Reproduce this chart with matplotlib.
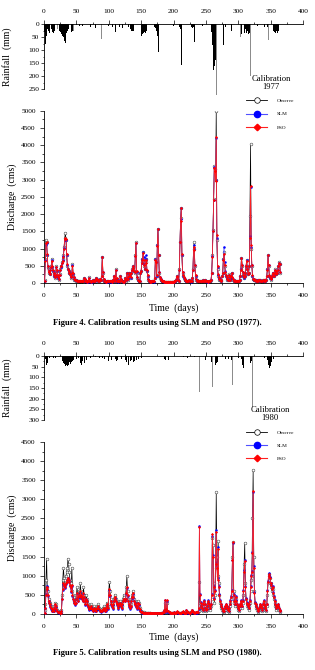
import matplotlib
matplotlib.use('Agg')
import matplotlib.pyplot as plt
from matplotlib.lines import Line2D
from matplotlib.ticker import MultipleLocator
import numpy as np

plt.rcParams['font.family'] = ['Liberation Serif', 'DejaVu Serif']

# ---------------- Rainfall 1977 (day, mm) ----------------
rain77_black_days = [1,2,3,4,5,6,7,8,9,12,13,14,15,16,17,20,24,26,27,28,29,30,31,32,33,34,35,36,38,40,42,44,
                     50,55,60,65,72,80,100,106,111,117,121,125,130,133,135,136,137,138,142,
                     151,152,153,154,155,156,157,158,171,172,173,174,175,176,177,200,209,210,211,212,
                     228,229,230,231,232,245,258,259,260,261,262,263,264,265,266,267,275,277,280,289,
                     305,309,310,311,312,313,314,315,316,317,318,319,330,340,345,
                     354,355,356,357,358,359,360,361,362,363]
rain77_black_vals = [30,75,70,45,20,15,25,10,35,20,30,15,35,25,10,15,25,30,40,35,45,50,55,65,73,50,35,25,20,15,30,25,
                     5,8,6,10,12,15,8,10,30,12,15,20,10,18,25,20,28,25,90,
                     45,40,50,35,30,25,35,28,10,15,20,25,45,60,109,8,10,15,20,157,
                     12,15,18,10,69,8,15,30,80,120,177,160,150,140,60,20,15,80,10,28,
                     40,30,35,20,40,35,25,30,40,35,45,60,8,10,12,
                     20,25,30,35,20,25,30,35,25,20]
rain77_grey_days = [21,45,89,266,303,319,347]
rain77_grey_vals = [20,28,58,273,50,200,60]

# ---------------- Rainfall 1980 (day, mm) ----------------
rain80_black_days = [2,3,4,5,6,8,15,18,20,29,30,31,32,33,34,35,36,37,38,39,40,41,42,44,46,48,50,53,56,58,60,63,66,68,
                     72,80,86,90,94,100,102,104,110,112,114,116,120,126,128,130,133,135,138,140,143,146,150,
                     186,188,192,216,222,232,250,259,260,261,265,266,268,275,280,285,290,300,305,307,308,309,
                     315,318,319,320,335,340,345,347,348,349,350,351,352,355]
rain80_black_vals = [15,42,40,35,20,10,8,10,12,25,35,40,38,45,42,40,45,35,40,30,45,38,30,25,20,30,15,10,35,40,25,35,20,15,
                     10,5,8,10,12,25,35,20,15,25,20,18,15,20,30,42,25,20,30,25,20,15,8,
                     15,20,18,5,8,6,20,30,40,35,40,35,30,10,15,12,20,10,15,40,55,80,
                     20,30,35,25,8,10,20,40,56,50,45,30,25,15]
rain80_grey_days = [240,260,264,291,322]
rain80_grey_vals = [169,145,136,136,238]

# ---------------- Discharge 1977 (cms), daily from day 1 ----------------
obs77 = [80,700,1250,1200,800,450,300,350,250,400,
         480,700,450,350,300,200,150,250,500,350,
         200,150,100,250,400,500,450,600,700,800,
         1050,1300,1460,1250,800,500,400,350,300,250,
         200,150,300,550,250,150,100,100,80,70,
         60,50,60,70,50,40,40,50,60,50,
         60,150,100,50,40,40,30,40,160,60,
         50,40,30,40,80,60,50,40,80,120,
         150,100,80,60,50,80,120,100,200,760,
         300,100,60,40,30,30,40,50,60,40,
         40,50,60,40,30,60,100,200,100,60,
         400,120,60,40,40,50,60,200,100,60,
         40,30,30,60,150,100,70,300,150,100,
         200,300,250,150,300,400,450,500,350,300,
         800,1180,300,150,80,60,50,40,300,350,
         600,700,900,650,500,400,600,700,350,200,
         100,60,40,30,30,40,50,60,50,40,
         150,700,600,200,1100,1580,800,300,150,100,
         80,60,50,40,40,30,30,30,30,30,
         25,30,30,25,30,35,30,25,30,35,
         40,50,60,100,200,150,80,60,400,1200,
         1900,2190,800,300,200,150,100,80,60,60,
         50,50,60,80,50,40,40,60,150,400,
         1000,1190,500,200,100,80,60,50,40,50,
         60,50,40,60,80,50,40,60,100,50,
         40,40,30,40,60,40,50,100,300,800,
         1550,2450,3400,3300,3000,5000,1250,400,200,150,
         100,80,60,80,200,300,700,900,500,300,
         200,150,100,80,100,250,150,80,200,300,
         150,100,80,60,50,40,50,60,50,40,
         60,100,200,400,735,500,300,200,150,200,
         300,500,670,400,250,300,500,1940,4020,1000,
         500,200,120,100,80,100,80,60,50,60,
         80,100,80,60,50,40,60,80,100,60,
         50,80,100,200,400,810,500,200,150,100,
         150,200,300,250,200,300,400,350,250,300,
         400,500,600,550,300]
slm77 = [70,680,1100,1150,820,480,310,340,250,390,
         460,680,460,360,300,210,160,240,470,360,
         210,150,110,240,390,490,460,590,680,780,
         1020,1250,1250,1240,820,520,410,350,300,250,
         200,160,290,520,260,160,110,100,85,75,
         65,55,60,70,55,45,45,50,60,50,
         60,145,105,55,45,40,35,40,155,65,
         50,40,35,40,80,60,50,45,80,115,
         145,105,80,60,50,80,115,100,195,750,
         310,110,65,45,35,35,40,50,60,45,
         40,50,60,40,35,60,100,195,105,60,
         390,130,65,45,40,50,60,195,105,60,
         45,35,35,60,145,105,75,295,155,105,
         195,295,255,155,295,390,440,490,355,305,
         790,1160,330,160,85,65,50,45,290,345,
         590,690,890,760,560,410,800,690,360,210,
         110,65,45,35,35,40,50,60,50,40,
         145,690,610,210,1090,1560,810,310,160,105,
         85,65,50,45,40,35,35,35,30,30,
         30,30,30,30,30,35,30,30,30,35,
         40,50,60,100,195,155,85,65,390,1190,
         1850,2180,820,310,210,155,105,85,65,60,
         55,50,60,80,55,45,40,60,145,390,
         980,1100,510,210,110,85,65,55,45,50,
         60,50,45,60,80,50,45,60,100,55,
         45,40,35,40,60,45,50,100,290,780,
         1520,2420,3380,3280,2980,4200,1300,450,220,155,
         105,85,65,80,195,295,690,1050,600,350,
         210,155,105,85,100,245,155,85,195,295,
         155,105,80,60,50,45,50,60,50,45,
         60,100,195,395,730,510,310,210,155,195,
         295,490,660,410,260,300,490,1350,2800,1050,
         510,210,125,105,85,100,80,60,50,60,
         80,100,80,60,50,45,60,80,100,60,
         50,80,100,195,395,800,510,210,155,105,
         150,195,295,255,205,295,390,355,255,295,
         390,490,590,555,310]
pso77 = [60,650,1150,1180,850,500,320,330,260,380,
         450,650,480,380,300,220,170,230,450,380,
         220,160,120,230,380,480,480,580,650,750,
         1000,1280,1300,1280,850,550,420,360,300,260,
         210,170,280,500,280,170,120,100,90,80,
         70,60,60,70,60,50,50,55,60,55,
         60,140,110,60,50,45,40,45,150,70,
         55,45,40,45,80,65,55,50,80,110,
         140,110,85,65,55,80,110,100,190,740,
         320,120,70,50,40,40,45,55,60,50,
         45,55,60,45,40,60,100,190,110,65,
         380,140,70,50,45,55,60,190,110,65,
         50,40,40,60,140,110,80,290,160,110,
         190,290,260,160,290,380,430,480,360,310,
         780,1170,350,170,90,70,55,50,280,340,
         580,680,880,680,520,420,580,680,380,220,
         120,70,50,40,40,45,55,60,55,45,
         140,680,620,220,1080,1570,820,320,170,110,
         90,70,55,50,45,40,40,40,35,35,
         35,35,35,30,35,40,35,30,35,40,
         45,55,60,100,190,160,90,70,380,1180,
         1800,2190,850,320,220,160,110,90,70,65,
         60,55,60,80,60,50,45,60,140,380,
         950,1050,520,220,120,90,70,60,50,55,
         60,55,50,60,80,55,50,60,100,60,
         50,45,40,45,60,50,55,100,280,750,
         1500,2400,3350,3250,2950,4250,1400,500,250,160,
         110,90,70,80,190,290,680,850,520,320,
         220,160,110,90,100,240,160,90,190,290,
         160,110,85,65,55,50,55,60,55,50,
         60,100,190,390,720,520,320,220,160,190,
         290,480,650,420,270,300,480,1300,2810,1100,
         520,220,130,110,90,100,85,65,55,60,
         80,100,85,65,55,50,60,80,100,65,
         55,80,100,190,390,810,520,220,160,110,
         150,190,290,260,210,290,380,360,260,290,
         380,480,580,560,320]

# ---------------- Discharge 1980 (cms), daily from day 1 ----------------
obs80 = [100,250,900,1450,700,600,400,350,300,250,
         200,150,100,150,100,200,300,250,150,100,
         80,60,50,40,30,40,100,500,900,1210,
         950,800,900,1000,1100,1200,1450,1300,1100,900,
         800,700,1210,600,500,400,350,300,400,500,
         700,500,400,600,500,800,600,500,450,400,
         700,500,400,300,500,400,300,250,200,150,
         200,250,200,150,100,150,200,150,120,100,
         150,200,250,200,150,120,100,80,100,120,
         150,200,150,100,120,200,300,250,200,600,
         850,600,400,300,250,200,300,400,500,450,
         400,350,300,250,200,300,350,300,250,200,
         300,400,500,450,400,500,700,990,600,400,
         300,250,200,250,400,500,600,500,400,350,
         300,250,200,250,350,300,200,150,100,80,
         60,50,40,40,30,30,25,20,20,20,
         20,15,15,15,10,10,10,10,10,10,
         10,10,10,10,10,10,10,10,10,10,
         15,20,25,30,40,60,300,80,50,300,
         60,40,30,25,20,15,15,15,20,30,
         20,15,15,15,40,35,20,15,15,15,
         15,20,30,50,25,15,15,15,20,80,
         40,30,20,15,15,15,40,80,40,30,
         20,15,15,20,30,40,20,40,80,830,
         300,200,150,100,80,200,300,200,100,80,
         100,150,250,300,200,150,100,200,400,2000,
         1800,800,300,500,1200,3180,1500,1000,1900,800,
         500,300,200,150,100,80,60,50,100,150,
         200,150,100,80,60,100,200,300,400,500,
         1500,1880,600,300,200,400,300,200,150,100,
         80,150,200,300,200,150,300,500,1300,1860,
         800,400,300,200,150,100,200,300,600,900,
         1000,2500,3760,1500,600,300,200,150,100,80,
         60,100,150,200,150,100,80,200,300,200,
         150,100,80,200,500,800,1000,1040,950,800,
         700,600,650,500,400,300,200,150,100,150,
         200,150,100,80,60]
slm80 = [30,170,520,740,640,480,340,290,240,190,
         140,110,70,90,70,140,240,190,110,70,
         50,40,30,25,20,25,70,380,620,780,
         730,680,740,790,830,880,930,880,830,730,
         680,580,730,480,380,330,280,230,280,380,
         530,430,330,480,430,580,480,430,380,330,
         530,430,330,230,380,330,230,180,140,110,
         140,190,140,110,70,110,140,110,90,70,
         110,140,190,140,110,90,70,60,70,90,
         110,140,110,70,90,140,240,190,140,480,
         630,480,330,230,190,140,230,330,430,380,
         330,280,230,190,140,230,280,230,190,140,
         230,330,380,360,330,380,530,680,480,330,
         230,190,140,190,330,430,530,430,330,280,
         230,190,140,190,280,230,140,110,70,50,
         45,35,30,25,25,20,20,20,15,15,
         15,15,15,15,15,15,15,15,15,15,
         15,15,15,15,15,15,15,15,15,15,
         20,25,30,40,55,95,360,110,65,350,
         85,65,45,35,30,30,30,30,35,40,
         30,25,25,25,65,55,35,25,25,25,
         25,30,40,65,35,25,25,25,30,100,
         65,45,35,25,25,25,55,100,65,45,
         35,25,25,35,45,55,35,55,140,2300,
         520,320,210,160,110,260,370,260,160,110,
         130,210,310,360,260,210,160,260,520,2050,
         1550,720,420,620,1350,2200,1250,950,1750,720,
         520,360,260,210,160,110,85,75,160,210,
         260,210,160,110,85,160,260,360,460,620,
         1420,1870,520,360,260,460,360,260,210,160,
         110,210,260,360,260,210,360,620,1150,1420,
         720,420,310,260,210,160,260,360,720,1020,
         1120,1620,3200,1250,570,310,260,210,160,110,
         85,160,210,260,210,160,110,260,360,260,
         210,160,110,260,620,870,1020,1060,970,820,
         770,670,720,570,470,360,260,210,160,210,
         260,210,160,110,85]
pso80 = [20,150,500,715,650,500,350,300,250,200,
         150,120,80,100,80,150,250,200,120,80,
         60,50,40,30,20,30,80,400,650,800,
         750,700,750,800,850,900,950,900,850,750,
         700,600,750,500,400,350,300,250,300,400,
         550,450,350,500,450,600,500,450,400,350,
         550,450,350,250,400,350,250,200,150,120,
         150,200,150,120,80,120,150,120,100,80,
         120,150,200,150,120,100,80,70,80,100,
         120,150,120,80,100,150,250,200,150,500,
         650,500,350,250,200,150,250,350,450,400,
         350,300,250,200,150,250,300,250,200,150,
         250,350,400,380,350,400,550,700,500,350,
         250,200,150,200,350,450,550,450,350,300,
         250,200,150,200,300,250,150,120,80,60,
         50,40,35,30,30,25,25,20,20,20,
         20,15,15,15,15,15,15,15,15,15,
         15,15,15,15,15,15,15,15,15,15,
         20,25,30,40,60,100,370,120,70,360,
         90,70,50,40,35,30,30,30,35,45,
         35,30,25,25,70,60,40,30,25,25,
         25,35,45,70,40,30,25,25,35,110,
         70,50,40,30,30,30,60,110,70,50,
         40,30,30,40,50,60,40,60,150,2280,
         500,300,200,150,100,250,350,250,150,100,
         120,200,300,350,250,200,150,250,500,2090,
         1500,700,400,600,1300,2150,1200,900,1700,700,
         500,350,250,200,150,100,80,70,150,200,
         250,200,150,100,80,150,250,350,450,600,
         1400,1880,500,350,250,450,350,250,200,150,
         100,200,250,350,250,200,350,600,1100,1390,
         700,400,300,250,200,150,250,350,700,1000,
         1100,1600,3220,1200,550,300,250,200,150,100,
         80,150,200,250,200,150,100,250,350,250,
         200,150,100,250,600,850,1000,1040,950,800,
         750,650,700,550,450,350,250,200,150,200,
         250,200,150,100,80]

xticks = [0, 50, 100, 150, 200, 250, 300, 350, 400]

fig = plt.figure(figsize=(3.15, 6.7), dpi=100)
W, H = 315.0, 670.0

def rect(l, t, r, b):
    return [l / W, 1 - b / H, (r - l) / W, (b - t) / H]

def style_common(ax):
    ax.tick_params(axis='both', which='major', direction='out', length=3, width=0.5, labelsize=5.3, colors='black')
    ax.tick_params(axis='both', which='minor', direction='out', length=1.5, width=0.5)
    for s in ax.spines.values():
        s.set_linewidth(0.6)

def rain_axes(r, bd, bv, gd, gv, ymax, ytmax):
    ax = fig.add_axes(r)
    ax.bar(bd, bv, width=1.2, color='black', linewidth=0, clip_on=False)
    ax.bar(gd, gv, width=1.2, color='#8c8c8c', linewidth=0, clip_on=False)
    ax.set_xlim(0, 400)
    ax.set_ylim(ymax, 0)
    ax.set_xticks(xticks)
    ax.set_yticks(np.arange(0, ytmax + 1, 50))
    ax.xaxis.set_minor_locator(MultipleLocator(25))
    ax.yaxis.set_minor_locator(MultipleLocator(25))
    ax.xaxis.tick_top()
    ax.spines['bottom'].set_visible(False)
    ax.spines['right'].set_visible(False)
    style_common(ax)
    ax.tick_params(axis='x', which='major', pad=4.5)
    ax.tick_params(axis='y', which='both', length=2, pad=1.5)
    ax.tick_params(axis='y', which='minor', length=1)
    ax.set_ylabel('Rainfall  (mm)', fontsize=7)
    ax.yaxis.set_label_coords(-0.125, 0.5)
    return ax

def q_axes(r, obs, slm, pso, ymax):
    ax = fig.add_axes(r)
    d1 = np.arange(1, len(obs) + 1)
    d2 = np.arange(1, len(slm) + 1)
    d3 = np.arange(1, len(pso) + 1)
    ax.plot(d1, obs, color='black', lw=0.5, marker='o', ms=2.0, mfc='white', mec='#333333', mew=0.35, zorder=2)
    ax.plot(d2, slm, color='#4040ff', lw=0.5, marker='o', ms=1.8, mfc='blue', mec='blue', mew=0, zorder=3)
    ax.plot(d3, pso, color='#ff2020', lw=0.6, marker='D', ms=1.6, mfc='red', mec='red', mew=0, zorder=4)
    ax.set_xlim(0, 400)
    ax.set_ylim(0, ymax)
    ax.set_xticks(xticks)
    ax.set_yticks(np.arange(0, ymax + 1, 500))
    ax.xaxis.set_minor_locator(MultipleLocator(25))
    ax.yaxis.set_minor_locator(MultipleLocator(250))
    ax.spines['top'].set_visible(False)
    ax.spines['right'].set_visible(False)
    style_common(ax)
    ax.tick_params(axis='x', which='major', pad=4.5)
    ax.tick_params(axis='y', which='major', pad=3)
    ax.set_ylabel('Discharge  (cms)', fontsize=7)
    ax.yaxis.set_label_coords(-0.105, 0.5)
    handles = [
        Line2D([], [], color='black', lw=0.6, marker='o', ms=4, mfc='white', mec='black', mew=0.5),
        Line2D([], [], color='#5050ff', lw=0.8, marker='o', ms=4.5, mfc='blue', mec='blue'),
        Line2D([], [], color='#ff2020', lw=0.8, marker='D', ms=3.3, mfc='red', mec='red'),
    ]
    ax.legend(handles, ['Observe', 'SLM', 'PSO'], loc='upper left', bbox_to_anchor=(0.78, 1.07),
              frameon=False, fontsize=3.8, handlelength=4.0, handletextpad=1.8, labelspacing=1.6,
              borderpad=0, borderaxespad=0)
    return ax

# Figure 4 (1977)
rain_axes(rect(44, 24, 303, 89), rain77_black_days, rain77_black_vals,
          rain77_grey_days, rain77_grey_vals, 250, 250)
q_axes(rect(44, 110.7, 303, 283), obs77, slm77, pso77, 5000)
fig.text(271 / W, 1 - 83 / H, 'Calibration\n1977', ha='center', va='center', fontsize=6.2, linespacing=1.0)
fig.text(173.5 / W, 1 - 308 / H, 'Time  (days)', ha='center', va='center', fontsize=7)
fig.text(0.5, 1 - 323 / H, 'Figure 4. Calibration results using SLM and PSO (1977).',
         ha='center', va='center', fontsize=6.2, fontweight='bold')

# Figure 5 (1980)
rain_axes(rect(44, 356, 303, 420), rain80_black_days, rain80_black_vals,
          rain80_grey_days, rain80_grey_vals, 300, 300)
q_axes(rect(44, 442, 303, 614), obs80, slm80, pso80, 4500)
fig.text(270 / W, 1 - 414.5 / H, 'Calibration\n1980', ha='center', va='center', fontsize=6.2, linespacing=1.0)
fig.text(173.5 / W, 1 - 637 / H, 'Time  (days)', ha='center', va='center', fontsize=7)
fig.text(0.5, 1 - 653 / H, 'Figure 5. Calibration results using SLM and PSO (1980).',
         ha='center', va='center', fontsize=6.2, fontweight='bold')

fig.savefig('out.png', dpi=100)
